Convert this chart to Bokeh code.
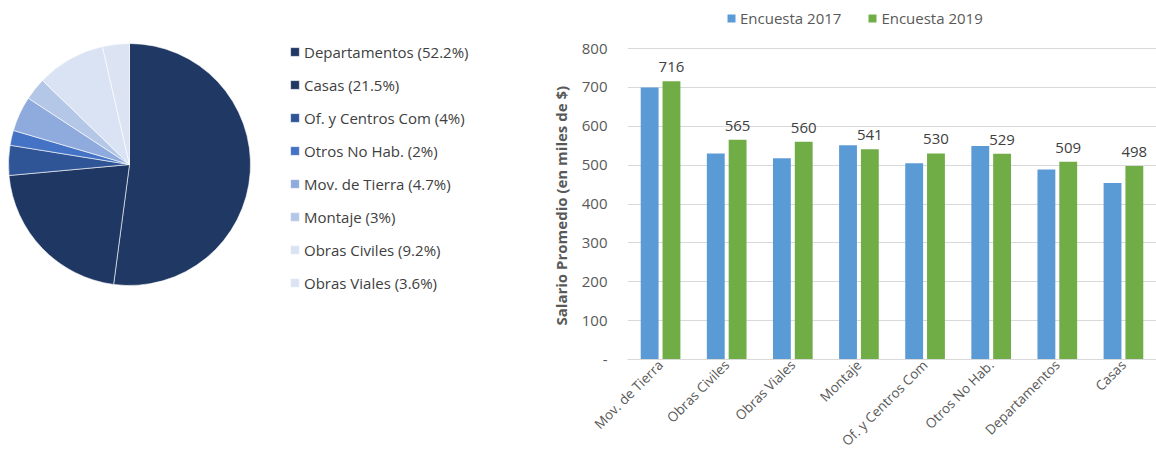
import math
from bokeh.plotting import figure
from bokeh.layouts import row
from bokeh.models import (ColumnDataSource, Range1d, FactorRange, Legend, LegendItem,
                          FixedTicker, LabelSet, Title)
from bokeh.core.properties import value
from bokeh.transform import dodge
from bokeh.embed import file_html
from bokeh.resources import INLINE

# ---------------- data ----------------
pie_labels = ["Departamentos", "Casas", "Of. y Centros Com", "Otros No Hab.",
              "Mov. de Tierra", "Montaje", "Obras Civiles", "Obras Viales"]
pie_pct = [52.2, 21.5, 4, 2, 4.7, 3, 9.2, 3.6]
pie_colors = ["#203864", "#1f3763", "#2f5597", "#4472c4",
              "#8faadc", "#b4c7e7", "#dae3f3", "#dce4f4"]

categories = ["Mov. de Tierra", "Obras Civiles", "Obras Viales", "Montaje",
              "Of. y Centros Com", "Otros No Hab.", "Departamentos", "Casas"]
enc2017 = [700, 530, 518, 551, 505, 549, 489, 454]
enc2019 = [716, 565, 560, 541, 530, 529, 509, 498]
series_names = ["Encuesta 2017", "Encuesta 2019"]
y_title = "Salario Promedio (en miles de $)"
y_ticks = [0, 100, 200, 300, 400, 500, 600, 700, 800]

FONT = "Open Sans"
TXT = "#404040"
AX = "#595959"

BOTTOM = 100   # space below the frame
Y_END = 923.5  # frame reaches the top of the page; 800 sits ~48 px from the top

# ---------------- pie ----------------
total = sum(pie_pct)
starts, ends = [], []
acc = 0.0
for v in pie_pct:
    starts.append(math.pi / 2 - acc / total * 2 * math.pi)
    acc += v
    ends.append(math.pi / 2 - acc / total * 2 * math.pi)

def fmt(v):
    return ("%g" % v)

pie_src = ColumnDataSource(dict(
    label=[f"{l} ({fmt(v)}%)" for l, v in zip(pie_labels, pie_pct)],
    start=starts, end=ends, color=pie_colors,
    x=[129] * len(pie_pct), y=[295] * len(pie_pct)))

p1 = figure(width=540, height=459, x_range=Range1d(0, 540),
            y_range=Range1d(BOTTOM, 459),
            output_backend="svg", toolbar_location=None,
            min_border_left=0, min_border_right=0,
            min_border_top=0, min_border_bottom=BOTTOM)
p1.axis.visible = False
p1.grid.visible = False
p1.outline_line_color = None

wr = p1.wedge(x="x", y="y", radius=121, radius_units="screen",
              start_angle="start", end_angle="end", direction="clock",
              fill_color="color", line_color="white", line_width=0.6, source=pie_src)

items = [LegendItem(label=pie_src.data["label"][i], renderers=[wr], index=i)
         for i in range(len(pie_pct))]
leg1 = Legend(items=items, location=(289, 66), orientation="vertical",
              label_text_font=FONT, label_text_font_size="15px", label_text_color=TXT,
              glyph_width=11, glyph_height=11, label_standoff=4,
              label_height=21, spacing=12, padding=0, margin=0,
              border_line_color=None, background_fill_alpha=0)
p1.add_layout(leg1, "center")

# ---------------- bars ----------------
src = ColumnDataSource(dict(cat=categories, a=enc2017, b=enc2019,
                            blab=[str(v) for v in enc2019]))

p2 = figure(width=616, height=459, x_range=FactorRange(*categories, range_padding=0),
            y_range=Range1d(0, Y_END), output_backend="svg",
            toolbar_location=None,
            min_border_left=86, min_border_right=0,
            min_border_top=0, min_border_bottom=BOTTOM)
p2.outline_line_color = None

r1 = p2.vbar(x=dodge("cat", -0.165, range=p2.x_range), top="a", width=0.27,
             fill_color="#5b9bd5", line_color=None, source=src)
r2 = p2.vbar(x=dodge("cat", 0.165, range=p2.x_range), top="b", width=0.27,
             fill_color="#70ad47", line_color=None, source=src)

labels = LabelSet(x=dodge("cat", 0.165, range=p2.x_range), y="b", text="blab",
                  source=src, text_align="center", text_baseline="bottom", y_offset=9,
                  text_font=value(FONT), text_font_size=value("15px"),
                  text_color=TXT)
p2.add_layout(labels)

p2.yaxis.ticker = FixedTicker(ticks=y_ticks)
p2.yaxis.major_label_overrides = {0: "-"}
p2.yaxis.axis_line_color = None
p2.yaxis.major_tick_line_color = None
p2.yaxis.minor_tick_line_color = None
p2.yaxis.major_tick_out = 0
p2.yaxis.major_label_text_font = FONT
p2.yaxis.major_label_text_font_size = "15px"
p2.yaxis.major_label_text_color = AX
p2.yaxis.major_label_standoff = 20

ytitle = Title(text=y_title, align="left", offset=34,
               text_font=FONT, text_font_size="15px", text_font_style="bold",
               text_color=AX, standoff=16)
p2.add_layout(ytitle, "left")

p2.xaxis.axis_line_color = "#d9d9d9"
p2.xaxis.major_tick_line_color = None
p2.xaxis.minor_tick_line_color = None
p2.xaxis.major_tick_out = 0
p2.xaxis.major_label_orientation = math.pi / 4
p2.xaxis.major_label_text_font = FONT
p2.xaxis.major_label_text_font_size = "13.5px"
p2.xaxis.major_label_text_color = AX
p2.xaxis.major_label_standoff = 3

p2.xgrid.grid_line_color = None
p2.ygrid.grid_line_color = "#d9d9d9"
p2.ygrid.ticker = FixedTicker(ticks=y_ticks)

leg2 = Legend(items=[LegendItem(label=series_names[0], renderers=[r1]),
                     LegendItem(label=series_names[1], renderers=[r2])],
              location=(99, 331), orientation="horizontal",
              label_text_font=FONT, label_text_font_size="15px", label_text_color=AX,
              glyph_width=10, glyph_height=10, label_standoff=4, spacing=26,
              label_height=21, padding=0, margin=0,
              border_line_color=None, background_fill_alpha=0)
p2.add_layout(leg2, "center")

layout = row(p1, p2, spacing=0)
open("out.html", "w").write(file_html(layout, INLINE))
